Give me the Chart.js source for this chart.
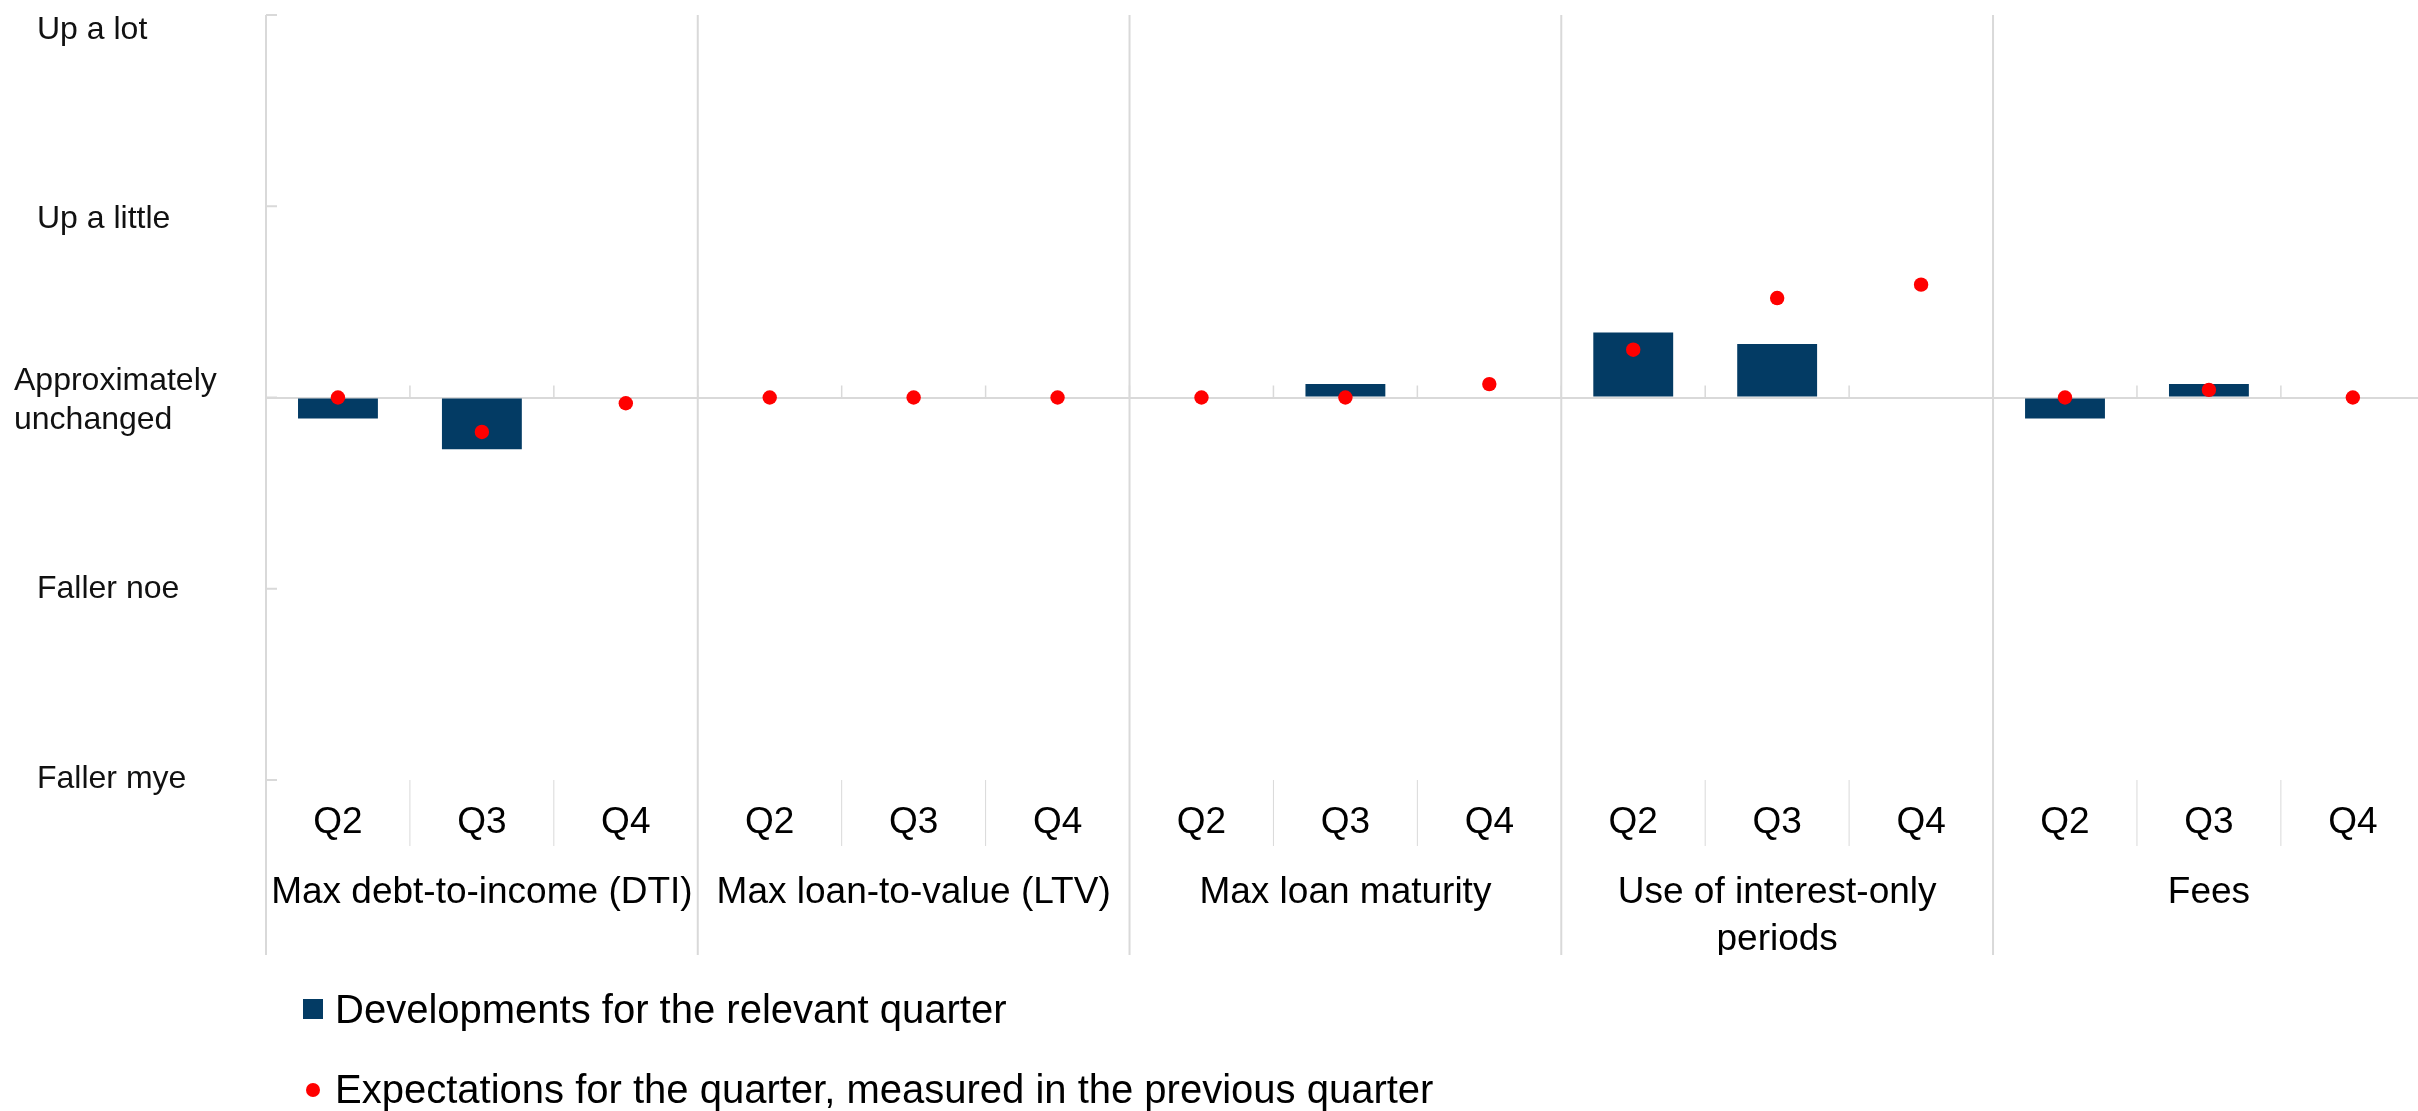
<!DOCTYPE html>
<html>
<head>
<meta charset="utf-8">
<title>Lending standards</title>
<script src="https://cdn.jsdelivr.net/npm/chart.js@4.4.1/dist/chart.umd.min.js"></script>
<style>
  html, body { margin: 0; padding: 0; background: #fff; overflow: hidden; }
  #wrap { position: relative; width: 2432px; height: 1111px; }
  #legend { font-family: 'Liberation Sans', Arial, sans-serif; }
  .swatch { position: absolute; }
  .item { position: absolute; left: 335px; font-size: 40px; line-height: 40px; white-space: nowrap; color: #000; }
</style>
</head>
<body>
<div id="wrap">
  <canvas id="chart" width="2432" height="1111"></canvas>
  <div id="legend"></div>
</div>
<script>
// Categories
const groups = [
    'Max debt-to-income (DTI)',
    'Max loan-to-value (LTV)',
    'Max loan maturity',
    ['Use of interest-only', 'periods'],
    'Fees'
];
const quarters = ['Q2', 'Q3', 'Q4'];
// y labels from top (2) to bottom (-2)
const yLabels = ['Up a lot', 'Up a little', ['Approximately', 'unchanged'], 'Faller noe', 'Faller mye'];

// Series (scale: 2 = up a lot ... -2 = faller mye)
const developments = [-0.11, -0.27, 0,   0, 0, 0,   0, 0.07, 0,      0.34, 0.28, 0,      -0.11, 0.07, 0];
const expectations = [0, -0.18, -0.03,  0, 0, 0,   0, 0, 0.07,      0.25, 0.52, 0.59,   0, 0.04, 0];

const seriesNames = [
    'Developments for the relevant quarter',
    'Expectations for the quarter, measured in the previous quarter'
];

const labels = groups.flatMap(() => quarters);
const per = quarters.length;

// label nudges seen in the original (px)
const yLabelShift = [15, 13, 3, 0, -1];
const yLabelIndent = [0, 0, -23, 0, 0];

const FONT = "'Liberation Sans', Arial, sans-serif";
Chart.defaults.font.family = FONT;

// grid lines / dividers taken from the scales
const frame = {
    id: 'frame',
    beforeDatasetsDraw(chart) {
        const {ctx, chartArea: a, scales: {x, x2, y}} = chart;
        const step = x.getPixelForValue(1) - x.getPixelForValue(0);
        const edge = i => x.getPixelForValue(i) - step / 2;
        const zero = y.getPixelForValue(0);
        const line = (x1, y1, x2_, y2) => {
            ctx.beginPath(); ctx.moveTo(x1, y1); ctx.lineTo(x2_, y2); ctx.stroke();
        };
        ctx.save();
        ctx.strokeStyle = '#d9d9d9';

        // small tick marks on the zero line
        ctx.lineWidth = 1.5;
        for (let i = 1; i < labels.length; i++) line(edge(i), zero - 12, edge(i), zero);

        // dividers between quarter labels
        ctx.lineWidth = 1;
        for (let i = 1; i < labels.length; i++) {
            if (i % per !== 0) line(edge(i), x.top, edge(i), x.bottom);
        }

        // axis line and group dividers
        ctx.lineWidth = 2;
        for (let i = 0; i <= labels.length; i += per) line(edge(i), a.top, edge(i), x2.bottom);

        // y tick marks
        y.ticks.forEach(t => {
            const py = y.getPixelForValue(t.value);
            line(a.left, py, a.left + 11, py);
        });
        ctx.restore();
    },
    afterDraw(chart) {
        // y-axis category texts, left aligned
        const {ctx, scales: {y}} = chart;
        const left = chart.options.layout.padding.left;
        const lh = 38.4;
        ctx.save();
        ctx.font = '32px ' + FONT;
        ctx.fillStyle = '#111';
        ctx.textAlign = 'left';
        ctx.textBaseline = 'middle';
        y.ticks.forEach(t => {
            const idx = 2 - t.value;
            const lines = [].concat(yLabels[idx]);
            const cy = y.getPixelForValue(t.value) + yLabelShift[idx];
            lines.forEach((s, k) => {
                ctx.fillText(s, left + yLabelIndent[idx], cy + (k - (lines.length - 1) / 2) * lh);
            });
        });
        ctx.restore();
    }
};

const chart = new Chart(document.getElementById('chart'), {
    type: 'bar',
    data: {
        labels: labels,
        datasets: [{
            label: seriesNames[0],
            data: developments,
            backgroundColor: '#033b64',
            borderWidth: 0,
            categoryPercentage: 1,
            barPercentage: 0.555,
            order: 2
        }, {
            type: 'line',
            label: seriesNames[1],
            data: expectations,
            showLine: false,
            pointRadius: 7.2,
            pointHoverRadius: 7.2,
            pointBackgroundColor: '#ff0000',
            pointBorderWidth: 0,
            borderColor: '#ff0000',
            order: 1
        }]
    },
    options: {
        responsive: false,
        animation: false,
        layout: { padding: { left: 37, top: 15, right: 0, bottom: 156 } },
        plugins: {
            legend: { display: false },
            tooltip: { enabled: false }
        },
        scales: {
            x: {
                weight: 0,
                offset: true,
                grid: { display: false, drawTicks: false, tickLength: 0 },
                border: { display: false },
                ticks: {
                    autoSkip: false, maxRotation: 0, minRotation: 0,
                    padding: 21, color: '#000',
                    font: { size: 37, lineHeight: 1.2 }
                },
                afterFit(s) { s.height = 66; s.paddingLeft = 0; s.paddingRight = 0; }
            },
            x2: {
                type: 'category',
                labels: groups,
                position: 'bottom',
                weight: 1,
                offset: true,
                grid: { display: false, drawTicks: false, tickLength: 0 },
                border: { display: false },
                ticks: {
                    autoSkip: false, maxRotation: 0, minRotation: 0,
                    padding: 24, color: '#000',
                    font: { size: 37, lineHeight: 1.25 }
                },
                afterFit(s) { s.height = 109; s.paddingLeft = 0; s.paddingRight = 0; }
            },
            y: {
                min: -2,
                max: 2,
                grid: {
                    drawTicks: false,
                    lineWidth: 2,
                    color: c => c.tick && c.tick.value === 0 ? '#d9d9d9' : 'rgba(0,0,0,0)'
                },
                border: { display: false },
                ticks: { stepSize: 1, display: false },
                afterFit(s) { s.width = 229; s.paddingTop = 0; s.paddingBottom = 0; }
            }
        }
    },
    plugins: [frame]
});

// HTML legend, one row per series
const legend = document.getElementById('legend');
const rowTops = [989, 1069];
chart.data.datasets.forEach((ds, i) => {
    const sw = document.createElement('div');
    sw.className = 'swatch';
    if (ds.type === 'line') {
        Object.assign(sw.style, {
            left: '306px', top: (rowTops[i] + 14) + 'px', width: '14px', height: '14px',
            borderRadius: '50%', background: ds.pointBackgroundColor
        });
    } else {
        Object.assign(sw.style, {
            left: '303px', top: (rowTops[i] + 10) + 'px', width: '20px', height: '20px',
            background: ds.backgroundColor
        });
    }
    legend.appendChild(sw);
    const t = document.createElement('div');
    t.className = 'item';
    t.style.top = rowTops[i] + 'px';
    t.textContent = ds.label;
    legend.appendChild(t);
});
</script>
</body>
</html>
